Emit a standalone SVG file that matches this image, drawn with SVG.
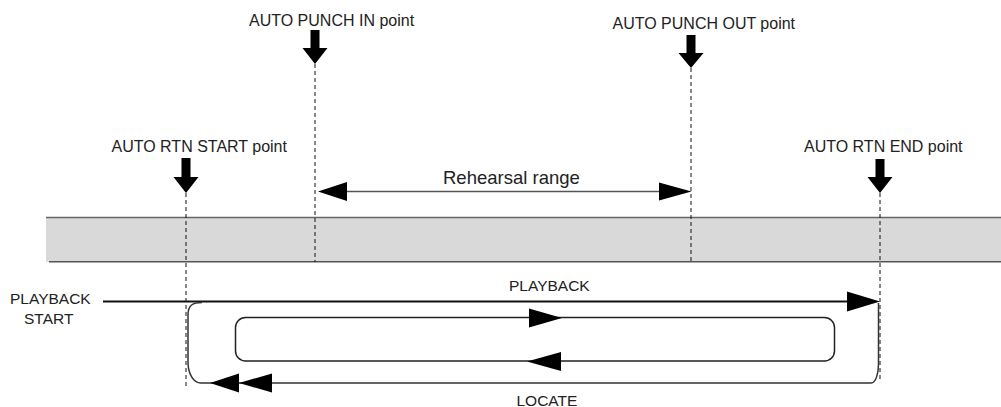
<svg xmlns="http://www.w3.org/2000/svg" width="1001" height="407" viewBox="0 0 1001 407">
<style>
  .lbl { font-family: "Liberation Sans", Arial, sans-serif; font-size: 16px; fill: #222; }
  .sm { font-size: 15.5px; }
  .big { font-size: 18.5px; }
  .dash { stroke: #111; stroke-width: 1; stroke-dasharray: 4 3; fill: none; }
  .mark { fill: #000; stroke: none; }
  .thin { stroke: #555; stroke-width: 1.5; fill: none; }
  .loop { stroke: #333; stroke-width: 1.5; fill: none; }
  .main { stroke: #111; stroke-width: 2; fill: none; }
</style>
<rect width="1001" height="407" fill="#fff"/>

<g id="timeline-band">
  <rect x="46" y="217.5" width="956" height="44.2" fill="#d9d9d9"/>
  <line x1="46" y1="217.5" x2="1001" y2="217.5" stroke="#666" stroke-width="1.5"/>
  <line x1="49" y1="261.7" x2="1001" y2="261.7" stroke="#555" stroke-width="1.5"/>
</g>

<g id="auto-rtn-start">
  <text class="lbl" x="111.5" y="151.5">AUTO RTN START point</text>
  <polygon class="mark" points="181.5,158 190.5,158 190.5,177 198.5,177 186,193 173.5,177 181.5,177"/>
</g>
<g id="auto-punch-in">
  <text class="lbl" x="249" y="25.5">AUTO PUNCH IN point</text>
  <polygon class="mark" points="310.5,30 319.5,30 319.5,48 327.5,48 315,64 302.5,48 310.5,48"/>
</g>
<g id="auto-punch-out">
  <text class="lbl" x="612.5" y="28.5">AUTO PUNCH OUT point</text>
  <polygon class="mark" points="686.5,35 695.5,35 695.5,53 703.5,53 691,68 678.5,53 686.5,53"/>
</g>
<g id="auto-rtn-end">
  <text class="lbl" x="804" y="151.5">AUTO RTN END point</text>
  <polygon class="mark" points="875.5,159 884.5,159 884.5,177 892.5,177 880,193 867.5,177 875.5,177"/>
</g>
<g id="playback-start">
  <text class="lbl sm" x="10" y="304">PLAYBACK</text>
  <text class="lbl sm" x="24" y="324">START</text>
</g>
<g id="loop-inner">
  <rect x="235.5" y="317.5" width="599" height="43.5" rx="10" ry="10" fill="none" stroke="#222" stroke-width="1.5"/>
</g>

<g id="connectors">
  <line class="dash" x1="186" y1="193" x2="186" y2="387"/>
  <line class="dash" x1="315" y1="64" x2="315" y2="262"/>
  <line class="dash" x1="691" y1="68" x2="691" y2="262"/>
  <line class="dash" x1="880" y1="193" x2="880" y2="381"/>

  <line class="thin" x1="345" y1="191.5" x2="661" y2="191.5"/>
  <polygon class="mark" points="318,191.5 347,182 347,201"/>
  <polygon class="mark" points="691.5,191.5 659,182.5 659,200.5"/>
  <text class="lbl big" x="443" y="184">Rehearsal range</text>

  <line class="main" x1="103" y1="301.5" x2="848" y2="301.5"/>
  <polygon class="mark" points="880,301.5 847,291.5 847,311.5"/>
  <text class="lbl sm" x="509" y="290.5">PLAYBACK</text>

  <path class="loop" d="M 202 302.5 C 193 302.5 188 305 188 315 L 188 362 C 188 373 193 383 201 383 L 871 383 C 876 383 878.5 373 878.5 364 L 878.5 303"/>
  <polygon class="mark" points="210,383 239,373.5 239,392.5"/>
  <polygon class="mark" points="239,383 272,373.5 272,392.5"/>
  <text class="lbl sm" x="516.5" y="406">LOCATE</text>

  <polygon class="mark" points="562,318 529,308.5 529,327.5"/>
  <polygon class="mark" points="527,361.5 561,352 561,371"/>
</g>
</svg>
